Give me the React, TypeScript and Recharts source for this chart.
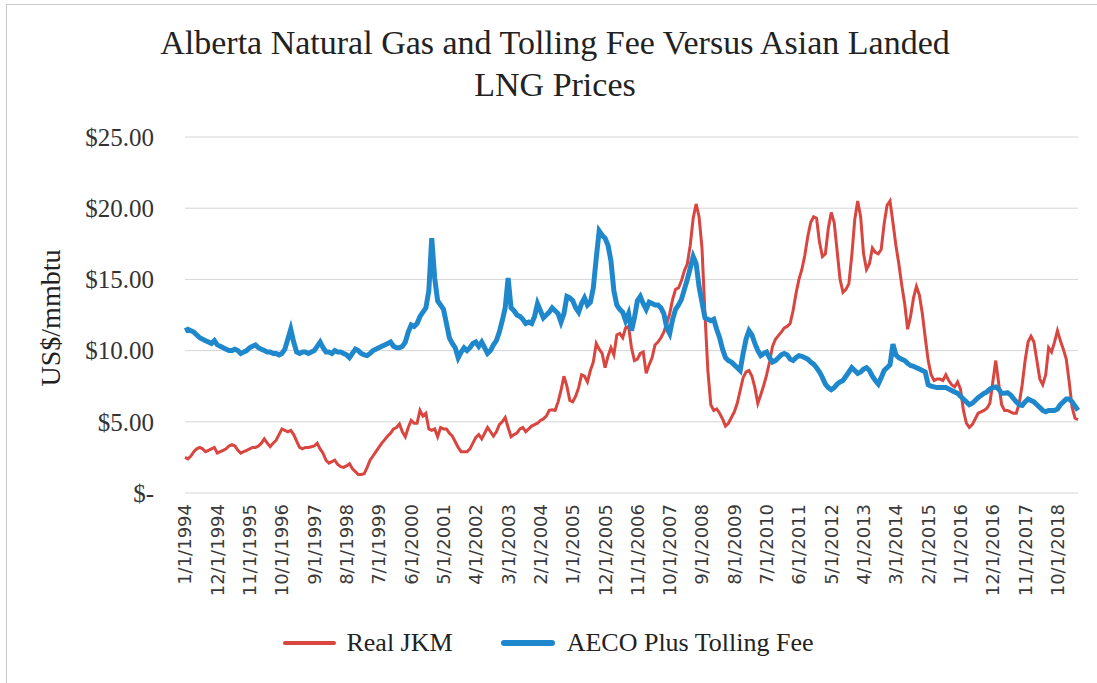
import React from "react";
import { CartesianGrid, Legend, Line, LineChart, XAxis, YAxis } from "recharts";

// monthly observations, Jan 1994 .. May 2019
const startYear = 1994;
const monthCount = 305;

const realJkm = [
  2.5, 2.4, 2.6, 2.9, 3.1, 3.2, 3.1, 2.9, 3.0, 3.1, 3.2, 2.8,
  2.9, 3.0, 3.1, 3.3, 3.4, 3.3, 3.0, 2.8, 2.9, 3.0, 3.1, 3.2,
  3.2, 3.3, 3.5, 3.8, 3.5, 3.25, 3.5, 3.7, 4.1, 4.5, 4.4, 4.3,
  4.4, 4.1, 3.65, 3.2, 3.1, 3.2, 3.2, 3.25, 3.3, 3.5, 3.1, 2.8,
  2.3, 2.1, 2.2, 2.3, 2.0, 1.85, 1.8, 1.9, 2.05, 1.7, 1.5, 1.3,
  1.3, 1.35, 1.8, 2.3, 2.6, 2.9, 3.2, 3.5, 3.75, 4.0, 4.2, 4.5,
  4.6, 4.85, 4.3, 3.95, 4.6, 5.1, 4.9, 4.9, 5.8, 5.4, 5.6, 4.5,
  4.4, 4.5, 3.95, 4.6, 4.5, 4.5, 4.2, 4.0, 3.6, 3.2, 2.9, 2.9,
  2.9, 3.1, 3.5, 3.9, 4.1, 3.8, 4.2, 4.6, 4.3, 4.0, 4.3, 4.8,
  5.0, 5.3, 4.6, 3.95, 4.1, 4.2, 4.5, 4.6, 4.3, 4.5, 4.7, 4.8,
  4.9, 5.1, 5.2, 5.4, 5.8, 5.85, 5.8, 6.4, 7.2, 8.2, 7.5, 6.5,
  6.4, 6.8, 7.4, 8.3, 8.2, 7.8, 8.6, 9.2, 10.5, 10.1, 9.8, 8.8,
  9.6, 10.2, 9.7, 11.1, 11.2, 10.9, 11.6, 11.7, 10.2, 9.3, 9.4, 9.8,
  9.9, 8.4, 9.0, 9.5, 10.4, 10.6, 10.9, 11.3, 11.9, 12.6, 13.6, 14.3,
  14.4, 14.9, 15.6, 16.1, 17.4, 19.3, 20.3, 19.4, 17.2, 12.6, 8.6, 6.2,
  5.8, 5.9, 5.6, 5.2, 4.7, 4.9, 5.3, 5.7, 6.3, 7.2, 8.1, 8.5,
  8.6, 8.2, 7.4, 6.3, 6.9, 7.55, 8.3, 9.2, 10.3, 10.8, 11.05, 11.3,
  11.6, 11.7, 11.9, 12.8, 14.0, 15.0, 15.7, 16.7, 18.0, 19.0, 19.4, 19.3,
  17.6, 16.6, 16.8, 18.6, 19.7, 19.0, 17.0, 15.0, 14.1, 14.3, 14.7, 16.7,
  19.2, 20.5, 19.4, 16.8, 15.7, 16.1, 17.2, 16.9, 16.8, 17.1, 18.9, 20.2,
  20.5, 19.0, 17.4, 16.1, 14.6, 13.3, 11.5, 12.4, 13.7, 14.5, 13.9, 12.6,
  10.9, 9.3, 8.3, 7.9, 8.0, 8.0, 7.9, 8.3, 7.9, 7.6, 7.45, 7.8,
  7.3, 5.8, 4.9, 4.6, 4.8, 5.2, 5.6, 5.7, 5.8, 5.95, 6.3, 7.8,
  9.3, 7.7, 6.2, 5.8, 5.8, 5.7, 5.6, 5.6, 6.3, 7.6, 9.3, 10.6,
  11.0, 10.6, 9.3, 8.0, 7.6, 8.3, 10.2, 9.9, 10.6, 11.4, 10.7, 10.1,
  9.4, 7.8, 6.0, 5.25, 5.15,
];

const aecoPlusToll = [
  11.4, 11.5, 11.4, 11.3, 11.1, 10.9, 10.8, 10.7, 10.6, 10.5, 10.7, 10.4,
  10.3, 10.2, 10.1, 10.0, 10.0, 10.1, 10.0, 9.8, 9.9, 10.0, 10.2, 10.3,
  10.4, 10.2, 10.1, 10.0, 9.9, 9.9, 9.8, 9.8, 9.7, 9.8, 10.1, 10.8,
  11.5, 10.6, 9.9, 9.8, 9.9, 9.9, 9.8, 9.9, 10.0, 10.3, 10.6, 10.2,
  9.9, 9.9, 9.8, 10.0, 9.9, 9.9, 9.8, 9.7, 9.5, 9.8, 10.1, 10.0,
  9.8, 9.7, 9.65, 9.8, 10.0, 10.1, 10.2, 10.3, 10.4, 10.5, 10.6, 10.3,
  10.2, 10.2, 10.3, 10.6, 11.3, 11.8, 11.7, 11.9, 12.4, 12.7, 13.0, 14.2,
  17.9, 15.1, 13.5, 13.2, 12.9, 11.9, 10.9, 10.5, 10.2, 9.5, 9.9, 10.2,
  10.0, 10.2, 10.5, 10.6, 10.3, 10.6, 10.2, 9.8, 10.0, 10.4, 10.7, 11.3,
  12.1, 13.0, 15.1, 13.0, 12.8, 12.5, 12.4, 12.2, 11.9, 12.0, 11.9, 12.4,
  13.3, 12.8, 12.3, 12.5, 12.7, 13.0, 12.8, 12.6, 12.0, 12.6, 13.8, 13.7,
  13.5, 13.0, 12.7, 13.3, 13.7, 13.2, 13.4, 14.4, 16.5, 18.4, 18.1, 17.9,
  17.4, 16.3, 14.2, 13.2, 12.9, 12.7, 12.1, 12.6, 11.4, 12.3, 13.5, 13.8,
  13.3, 12.9, 13.4, 13.3, 13.2, 13.2, 13.0, 12.6, 11.6, 11.2, 12.2, 12.9,
  13.2, 13.6, 14.3, 15.0, 15.8, 16.6, 16.1, 14.5, 13.4, 12.3, 12.2, 12.1,
  12.2, 11.5, 10.9, 10.1, 9.5, 9.3, 9.2, 9.0, 8.8, 8.6, 9.8, 10.8,
  11.4, 11.1, 10.5, 10.0, 9.65, 9.8, 9.9, 9.5, 9.2, 9.3, 9.5, 9.7,
  9.8, 9.7, 9.4, 9.3, 9.5, 9.65, 9.6, 9.5, 9.4, 9.2, 9.05, 8.8,
  8.5, 8.1, 7.65, 7.4, 7.25, 7.4, 7.65, 7.8, 7.9, 8.2, 8.5, 8.8,
  8.6, 8.4, 8.5, 8.7, 8.8, 8.6, 8.2, 7.9, 7.65, 8.1, 8.6, 8.8,
  9.0, 10.45, 9.7, 9.5, 9.4, 9.3, 9.1, 8.95, 8.9, 8.8, 8.7, 8.6,
  8.5, 7.6, 7.5, 7.45, 7.4, 7.4, 7.4, 7.4, 7.3, 7.2, 7.1, 7.0,
  6.8, 6.6, 6.4, 6.2, 6.3, 6.5, 6.7, 6.85, 7.0, 7.1, 7.3, 7.4,
  7.45, 7.3, 7.0, 7.0, 7.05, 6.9, 6.65, 6.4, 6.2, 6.15, 6.4, 6.6,
  6.5, 6.4, 6.2, 6.0, 5.8, 5.7, 5.8, 5.8, 5.8, 5.9, 6.2, 6.4,
  6.6, 6.6, 6.4, 6.1, 5.8,
];

const priceTicks = [0, 5, 10, 15, 20, 25];

const monthLabels: string[] = [];
for (let i = 0; i < monthCount; i++) {
  const m = (i % 12) + 1;
  const y = startYear + Math.floor(i / 12);
  monthLabels.push(`${m}/1/${y}`);
}

const rows = monthLabels.map((label, i) => ({
  date: label,
  jkm: realJkm[i],
  aeco: aecoPlusToll[i],
}));

const RED = "#d9453f";
const BLUE = "#1f88cc";
const SERIF = "'Liberation Serif', 'Times New Roman', serif";

function DateTick(props: any) {
  const { x, payload } = props;
  const y = 504;
  return (
    <text
      x={x}
      y={y}
      transform={`rotate(-90, ${x}, ${y})`}
      textAnchor="end"
      dy="0.36em"
      fontFamily="'DejaVu Sans', sans-serif"
      fontSize={18}
      fill="#3a3a3a"
    >
      {payload.value}
    </text>
  );
}

function PriceTick(props: any) {
  const { y, payload } = props;
  const v = payload.value;
  return (
    <text x={154} y={y} textAnchor="end" dy="0.35em" fontFamily={SERIF} fontSize={25} fill="#333">
      {v === 0 ? "$-" : `$${v.toFixed(2)}`}
    </text>
  );
}

function LegendBox() {
  return (
    <div
      style={{
        display: "flex",
        alignItems: "center",
        justifyContent: "center",
        fontFamily: SERIF,
        fontSize: 26,
        color: "#222",
      }}
    >
      <span style={{ width: 53, height: 4, background: RED, borderRadius: 2, marginRight: 10 }} />
      <span style={{ fontFamily: SERIF }}>Real JKM</span>
      <span style={{ width: 54, height: 6, background: BLUE, borderRadius: 3, marginLeft: 48, marginRight: 12 }} />
      <span style={{ fontFamily: SERIF }}>AECO Plus Tolling Fee</span>
    </div>
  );
}

export default function App() {
  return (
    <div
      style={{
        position: "absolute",
        left: 0,
        top: 0,
        width: 1097,
        height: 683,
        background: "#fff",
        overflow: "hidden",
      }}
    >
      <div
        style={{
          position: "absolute",
          left: 6,
          top: 4,
          width: 1200,
          height: 800,
          border: "1px solid #c8c8c8",
        }}
      />
      <div
        style={{
          position: "absolute",
          left: 0,
          top: 22,
          width: 1110,
          textAlign: "center",
          fontFamily: SERIF,
          fontSize: 34,
          lineHeight: "42px",
          color: "#222",
        }}
      >
        Alberta Natural Gas and Tolling Fee Versus Asian Landed
        <br />
        LNG Prices
      </div>
      <div
        style={{
          position: "absolute",
          left: 51,
          top: 318,
          transform: "translate(-50%, -50%) rotate(-90deg)",
          whiteSpace: "nowrap",
          fontFamily: SERIF,
          fontSize: 28,
          color: "#222",
        }}
      >
        US$/mmbtu
      </div>
      <LineChart
        width={1097}
        height={683}
        data={rows}
        margin={{ top: 137, right: 19, bottom: 0, left: 0 }}
        style={{ position: "absolute", left: 0, top: 0 }}
      >
        <CartesianGrid vertical={false} stroke="#d6d6d6" />
        <XAxis
          dataKey="date"
          interval={10}
          height={190}
          tick={<DateTick />}
          tickLine={false}
          axisLine={false}
        />
        <YAxis
          domain={[0, 25]}
          ticks={priceTicks}
          width={185}
          tick={<PriceTick />}
          tickLine={false}
          axisLine={false}
        />
        <Legend
          layout="horizontal"
          verticalAlign="middle"
          align="center"
          wrapperStyle={{ top: 628, left: 0, width: 1097 }}
          content={() => <LegendBox />}
        />
        <Line
          dataKey="jkm"
          name="Real JKM"
          stroke={RED}
          strokeWidth={3}
          dot={false}
          isAnimationActive={false}
        />
        <Line
          dataKey="aeco"
          name="AECO Plus Tolling Fee"
          stroke={BLUE}
          strokeWidth={5}
          dot={false}
          isAnimationActive={false}
        />
      </LineChart>
    </div>
  );
}
